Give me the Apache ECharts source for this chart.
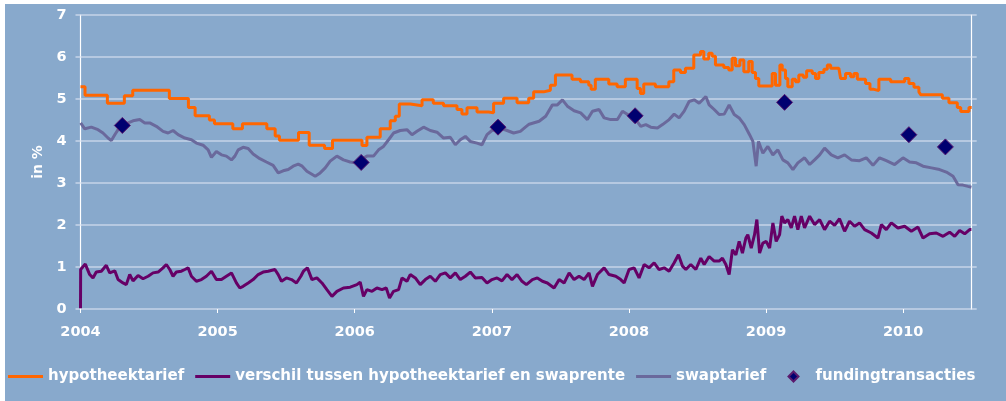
<!DOCTYPE html>
<html>
<head>
<meta charset="utf-8">
<script src="https://cdn.jsdelivr.net/npm/echarts@6/dist/echarts.min.js"></script>
<style>
html,body{margin:0;padding:0;background:#ffffff;}
#chart{width:1006px;height:401px;}
</style>
</head>
<body>
<div id="chart"></div>
<script>
// x values are decimal years
const yearTicks = [2004, 2005, 2006, 2007, 2008, 2009, 2010];
const yTicks = [0, 1, 2, 3, 4, 5, 6, 7];

const hypYears = [2004.000,2004.033,2004.196,2004.320,2004.381,2004.648,2004.787,2004.836,2004.940,2004.977,2005.111,2005.181,2005.359,2005.420,2005.451,2005.590,2005.668,2005.780,2005.838,2006.053,2006.089,2006.186,2006.259,2006.296,2006.325,2006.405,2006.491,2006.573,2006.648,2006.746,2006.782,2006.819,2006.892,2006.977,2007.013,2007.086,2007.184,2007.269,2007.305,2007.378,2007.427,2007.464,2007.585,2007.646,2007.707,2007.724,2007.755,2007.853,2007.914,2007.974,2008.060,2008.084,2008.108,2008.193,2008.291,2008.327,2008.376,2008.412,2008.473,2008.522,2008.546,2008.582,2008.607,2008.631,2008.692,2008.728,2008.753,2008.777,2008.809,2008.838,2008.874,2008.899,2008.923,2008.947,2009.045,2009.069,2009.101,2009.118,2009.142,2009.159,2009.191,2009.215,2009.239,2009.272,2009.296,2009.337,2009.361,2009.385,2009.422,2009.447,2009.471,2009.531,2009.544,2009.580,2009.617,2009.641,2009.666,2009.726,2009.758,2009.787,2009.823,2009.909,2010.011,2010.042,2010.079,2010.115,2010.128,2010.286,2010.334,2010.395,2010.420,2010.480,2010.500];
const hypValues = [5.29,5.09,4.90,5.08,5.21,5.01,4.80,4.60,4.50,4.41,4.29,4.41,4.29,4.12,4.02,4.20,3.90,3.82,4.02,3.89,4.09,4.29,4.48,4.59,4.88,4.84,4.98,4.90,4.84,4.75,4.64,4.79,4.69,4.67,4.90,5.02,4.91,5.02,5.17,5.21,5.33,5.57,5.47,5.41,5.33,5.23,5.47,5.36,5.29,5.47,5.25,5.13,5.36,5.29,5.41,5.69,5.63,5.73,6.05,6.13,5.95,6.09,6.02,5.81,5.75,5.69,5.97,5.79,5.93,5.65,5.89,5.63,5.49,5.31,5.61,5.33,5.81,5.69,5.49,5.29,5.47,5.41,5.57,5.52,5.67,5.61,5.49,5.63,5.71,5.81,5.73,5.69,5.49,5.61,5.53,5.61,5.47,5.37,5.23,5.20,5.47,5.41,5.49,5.37,5.28,5.17,5.10,5.02,4.91,4.80,4.70,4.80,4.80];

const swapYears = [2004.001,2004.031,2004.079,2004.128,2004.164,2004.201,2004.225,2004.250,2004.274,2004.347,2004.383,2004.432,2004.469,2004.505,2004.553,2004.602,2004.639,2004.675,2004.712,2004.761,2004.809,2004.845,2004.894,2004.931,2004.955,2004.991,2005.028,2005.064,2005.101,2005.126,2005.150,2005.186,2005.223,2005.259,2005.308,2005.356,2005.405,2005.442,2005.478,2005.515,2005.551,2005.588,2005.617,2005.651,2005.712,2005.748,2005.785,2005.821,2005.870,2005.918,2005.967,2006.004,2006.089,2006.137,2006.174,2006.210,2006.247,2006.283,2006.332,2006.381,2006.418,2006.454,2006.502,2006.551,2006.600,2006.648,2006.697,2006.734,2006.770,2006.807,2006.843,2006.892,2006.928,2006.965,2007.001,2007.062,2007.111,2007.159,2007.208,2007.245,2007.272,2007.345,2007.393,2007.442,2007.478,2007.515,2007.551,2007.600,2007.648,2007.697,2007.734,2007.782,2007.819,2007.867,2007.916,2007.953,2008.050,2008.086,2008.123,2008.159,2008.208,2008.245,2008.293,2008.330,2008.366,2008.403,2008.439,2008.476,2008.512,2008.561,2008.585,2008.622,2008.658,2008.695,2008.731,2008.768,2008.804,2008.841,2008.880,2008.904,2008.928,2008.945,2008.977,2009.013,2009.050,2009.086,2009.123,2009.159,2009.196,2009.232,2009.281,2009.318,2009.354,2009.391,2009.427,2009.476,2009.524,2009.573,2009.622,2009.682,2009.731,2009.780,2009.828,2009.877,2009.938,2009.999,2010.047,2010.096,2010.145,2010.206,2010.266,2010.315,2010.364,2010.400,2010.436,2010.473,2010.498];
const swapValues = [4.43,4.29,4.33,4.27,4.19,4.07,4.01,4.15,4.27,4.43,4.48,4.51,4.43,4.43,4.35,4.23,4.19,4.25,4.15,4.07,4.03,3.95,3.90,3.79,3.61,3.75,3.67,3.64,3.55,3.64,3.79,3.85,3.82,3.69,3.58,3.50,3.42,3.24,3.29,3.32,3.40,3.45,3.40,3.28,3.16,3.24,3.36,3.52,3.64,3.55,3.50,3.48,3.64,3.64,3.79,3.87,4.03,4.19,4.25,4.27,4.15,4.23,4.33,4.25,4.21,4.07,4.09,3.91,4.03,4.11,3.99,3.95,3.91,4.15,4.25,4.31,4.25,4.19,4.23,4.33,4.40,4.47,4.59,4.86,4.86,4.98,4.83,4.72,4.67,4.51,4.71,4.75,4.55,4.51,4.51,4.71,4.51,4.35,4.39,4.33,4.31,4.39,4.51,4.64,4.55,4.71,4.94,4.98,4.90,5.06,4.86,4.75,4.63,4.64,4.86,4.63,4.55,4.39,4.15,3.99,3.40,3.99,3.71,3.87,3.67,3.79,3.55,3.48,3.32,3.48,3.60,3.44,3.55,3.67,3.83,3.67,3.60,3.67,3.55,3.53,3.60,3.42,3.60,3.53,3.44,3.60,3.50,3.48,3.40,3.36,3.32,3.26,3.16,2.96,2.95,2.92,2.90];

const diffYears = [2004.000,2004.001,2004.035,2004.067,2004.091,2004.115,2004.152,2004.188,2004.213,2004.250,2004.274,2004.310,2004.334,2004.359,2004.383,2004.420,2004.456,2004.493,2004.529,2004.566,2004.602,2004.626,2004.651,2004.675,2004.699,2004.736,2004.761,2004.785,2004.809,2004.845,2004.882,2004.918,2004.955,2004.991,2005.028,2005.064,2005.101,2005.137,2005.162,2005.186,2005.223,2005.259,2005.296,2005.332,2005.369,2005.418,2005.442,2005.466,2005.502,2005.539,2005.575,2005.607,2005.626,2005.655,2005.688,2005.724,2005.761,2005.797,2005.834,2005.870,2005.918,2005.967,2006.016,2006.040,2006.064,2006.089,2006.126,2006.162,2006.199,2006.230,2006.254,2006.283,2006.320,2006.345,2006.381,2006.405,2006.442,2006.478,2006.515,2006.551,2006.588,2006.624,2006.661,2006.697,2006.734,2006.770,2006.807,2006.843,2006.880,2006.928,2006.965,2007.001,2007.038,2007.074,2007.111,2007.147,2007.184,2007.220,2007.252,2007.296,2007.332,2007.369,2007.405,2007.454,2007.491,2007.527,2007.564,2007.600,2007.636,2007.673,2007.709,2007.734,2007.770,2007.819,2007.855,2007.904,2007.940,2007.965,2008.001,2008.038,2008.074,2008.111,2008.147,2008.184,2008.220,2008.257,2008.293,2008.330,2008.361,2008.391,2008.415,2008.451,2008.488,2008.524,2008.549,2008.585,2008.622,2008.658,2008.682,2008.707,2008.731,2008.755,2008.780,2008.804,2008.828,2008.853,2008.867,2008.892,2008.916,2008.933,2008.953,2008.977,2009.001,2009.026,2009.050,2009.074,2009.099,2009.115,2009.135,2009.159,2009.184,2009.208,2009.232,2009.257,2009.281,2009.318,2009.354,2009.391,2009.427,2009.464,2009.500,2009.536,2009.573,2009.609,2009.646,2009.682,2009.719,2009.768,2009.816,2009.841,2009.877,2009.914,2009.962,2010.011,2010.060,2010.108,2010.145,2010.193,2010.242,2010.291,2010.339,2010.376,2010.412,2010.449,2010.485,2010.498];
const diffValues = [0.02,0.94,1.07,0.82,0.74,0.88,0.90,1.04,0.86,0.91,0.70,0.62,0.58,0.82,0.67,0.80,0.72,0.78,0.86,0.88,0.98,1.06,0.94,0.78,0.88,0.90,0.94,0.98,0.78,0.66,0.70,0.78,0.90,0.70,0.70,0.78,0.86,0.62,0.50,0.54,0.62,0.70,0.82,0.88,0.90,0.94,0.82,0.66,0.74,0.70,0.62,0.78,0.90,0.98,0.70,0.74,0.62,0.46,0.30,0.42,0.50,0.52,0.58,0.64,0.30,0.46,0.42,0.50,0.46,0.50,0.26,0.42,0.46,0.74,0.66,0.82,0.74,0.58,0.70,0.78,0.66,0.82,0.86,0.74,0.86,0.70,0.78,0.88,0.74,0.75,0.62,0.70,0.74,0.67,0.82,0.70,0.82,0.66,0.58,0.70,0.74,0.66,0.62,0.50,0.70,0.62,0.86,0.70,0.78,0.70,0.86,0.54,0.82,0.98,0.82,0.78,0.70,0.62,0.94,0.98,0.74,1.06,0.98,1.10,0.94,0.98,0.90,1.10,1.29,1.02,0.94,1.06,0.94,1.21,1.06,1.25,1.14,1.14,1.21,1.06,0.82,1.41,1.29,1.61,1.33,1.69,1.77,1.45,1.77,2.13,1.33,1.57,1.61,1.45,2.05,1.61,1.77,2.21,2.05,2.13,1.93,2.21,1.89,2.21,1.93,2.21,2.01,2.13,1.89,2.09,1.99,2.15,1.85,2.09,1.97,2.05,1.89,1.81,1.69,2.01,1.89,2.05,1.93,1.97,1.85,1.95,1.69,1.79,1.81,1.73,1.83,1.73,1.87,1.79,1.89,1.89];

const fundYears = [2004.305,2006.047,2007.045,2008.045,2009.135,2010.042,2010.308];
const fundValues = [4.37,3.49,4.33,4.60,4.92,4.15,3.86];

const zip = (xs, ys) => xs.map((x, i) => [x, ys[i]]);

const FONT = 'DejaVu Sans';
const GRID_COLOR = '#c6d5e9';
const legendText = {color: '#ffffff', fontFamily: FONT, fontWeight: 'bold', fontSize: 15};

const chart = echarts.init(document.getElementById('chart'), null, {renderer: 'canvas'});
chart.setOption({
  animation: false,
  backgroundColor: '#ffffff',
  graphic: [{
    type: 'rect', z: -100, silent: true,
    shape: {x: 5, y: 4, width: 1001, height: 397},
    style: {fill: '#88a9cc'}
  }],
  grid: {left: 80.5, right: 34.3, top: 15, bottom: 92, containLabel: false},
  legend: [{
    left: 3, top: 364, padding: 5,
    itemWidth: 35, itemHeight: 3, itemGap: 11, icon: 'rect',
    textStyle: legendText,
    data: ['hypotheektarief', 'verschil tussen hypotheektarief en swaprente', 'swaptarief']
  }, {
    left: 782.5, top: 364, padding: 5,
    itemWidth: 10, itemHeight: 10, icon: 'diamond',
    textStyle: Object.assign({}, legendText, {padding: [0, 0, 0, 12]}),
    data: ['fundingtransacties']
  }],
  xAxis: {
    type: 'value', min: 2004, max: 2010.5, interval: 1,
    axisLine: {show: false},
    splitLine: {show: false},
    axisTick: {show: true, customValues: yearTicks, length: 4, lineStyle: {color: '#ffffff', width: 1}},
    axisLabel: {
      customValues: yearTicks, margin: 16,
      color: '#ffffff', fontFamily: FONT, fontWeight: 'bold', fontSize: 14.5,
      formatter: v => String(Math.round(v))
    }
  },
  yAxis: [{
    type: 'value', min: 0, max: 7, interval: 1,
    name: 'in %', nameLocation: 'middle', nameGap: 33.5, nameRotate: 90,
    nameTextStyle: {color: '#ffffff', fontFamily: FONT, fontWeight: 'bold', fontSize: 14},
    axisLine: {show: true, lineStyle: {color: '#ffffff', width: 1.2}},
    axisTick: {show: true, inside: false, length: 5, lineStyle: {color: GRID_COLOR, width: 1.5}},
    splitLine: {show: true, lineStyle: {color: GRID_COLOR, width: 1.5}},
    axisLabel: {
      customValues: yTicks, margin: 14,
      color: '#ffffff', fontFamily: FONT, fontWeight: 'bold', fontSize: 14.5
    }
  }, {
    type: 'value', min: 0, max: 7, interval: 1, position: 'right',
    axisLine: {show: true, lineStyle: {color: '#ffffff', width: 1.2}},
    axisTick: {show: true, inside: false, length: 5, lineStyle: {color: GRID_COLOR, width: 1.5}},
    splitLine: {show: false},
    axisLabel: {show: false}
  }],
  series: [{
    name: 'swaptarief', type: 'line', symbol: 'none', z: 3,
    data: zip(swapYears, swapValues),
    lineStyle: {color: '#6a699c', width: 3},
    itemStyle: {color: '#6a699c'}
  }, {
    name: 'verschil tussen hypotheektarief en swaprente', type: 'line', symbol: 'none', z: 3,
    data: zip(diffYears, diffValues),
    lineStyle: {color: '#660066', width: 3},
    itemStyle: {color: '#660066'}
  }, {
    name: 'hypotheektarief', type: 'line', symbol: 'none', step: 'end', z: 4,
    data: zip(hypYears, hypValues),
    lineStyle: {color: '#ff6600', width: 3},
    itemStyle: {color: '#ff6600'}
  }, {
    name: 'fundingtransacties', type: 'scatter', symbol: 'diamond', symbolSize: [16, 16], z: 5,
    data: zip(fundYears, fundValues),
    itemStyle: {color: '#000070', borderColor: '#5a1a6e', borderWidth: 1, opacity: 1}
  }]
});
</script>
</body>
</html>
